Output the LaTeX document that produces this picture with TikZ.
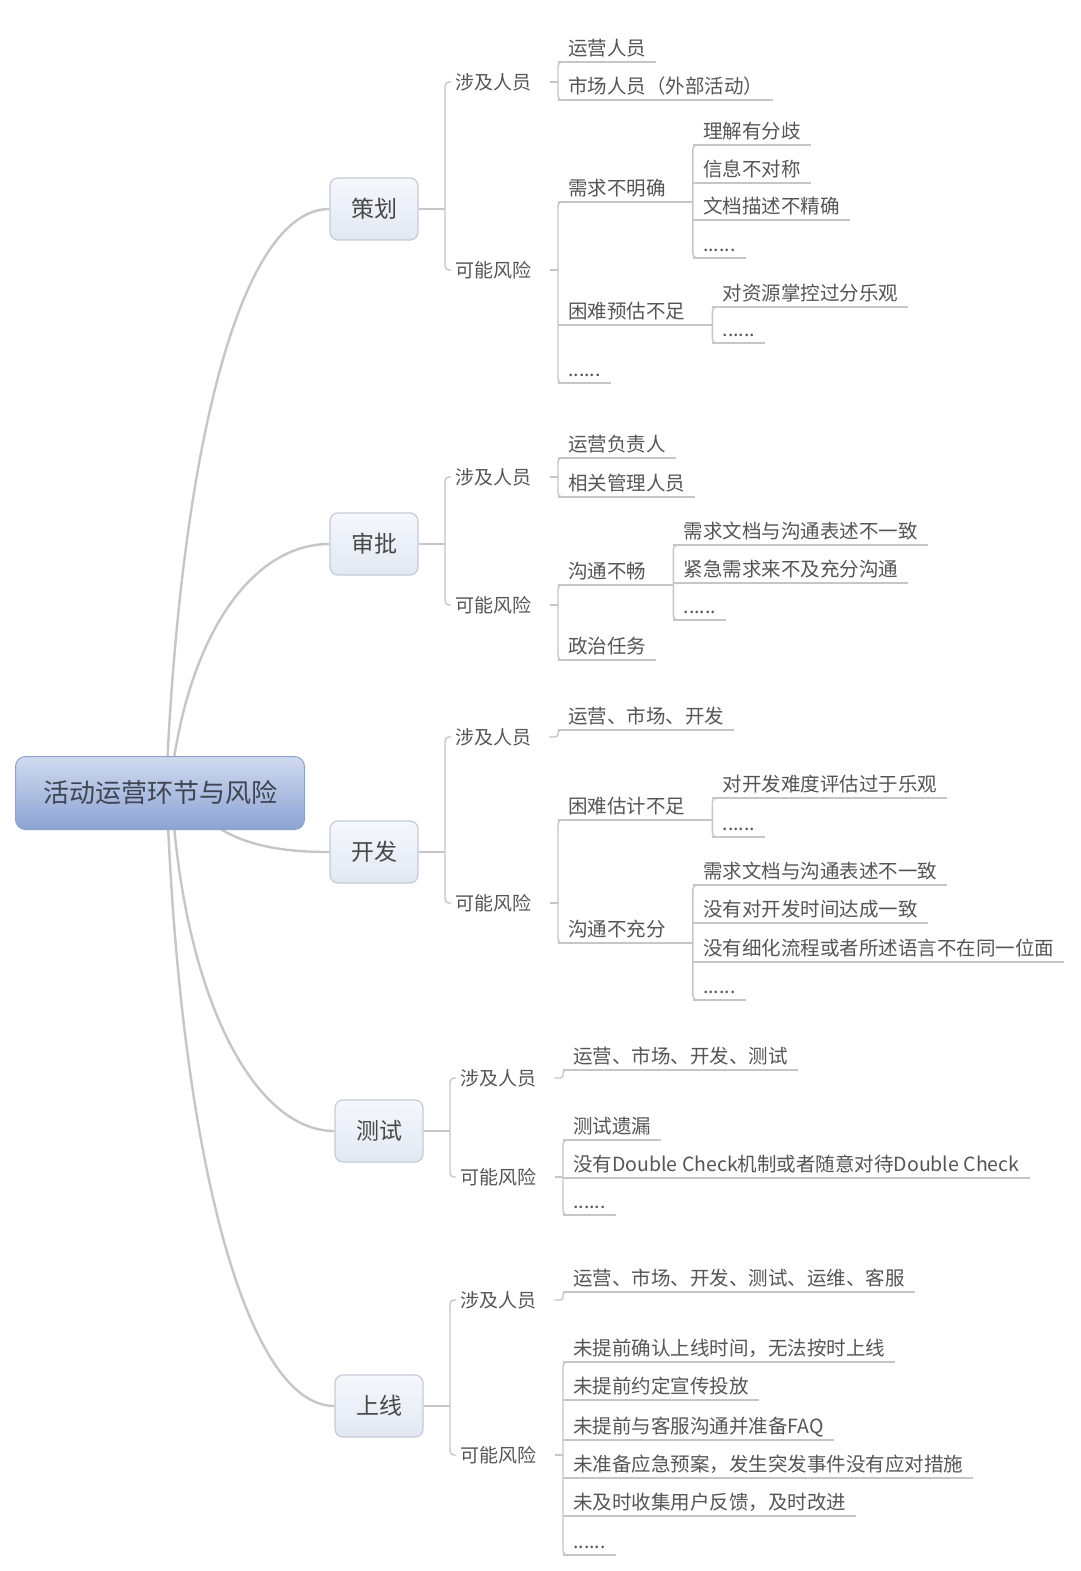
\documentclass[tikz,border=0pt]{standalone}
\usepackage{fontspec}
\setmainfont{Noto Sans CJK SC}
\definecolor{txt}{HTML}{555555}
\definecolor{ln}{HTML}{C6C6C6}
\definecolor{boxb}{HTML}{C4CBD8}
\definecolor{boxt}{HTML}{F5F7FB}
\definecolor{boxbot}{HTML}{E2E8F3}
\definecolor{roott}{HTML}{D0DAEE}
\definecolor{rootb}{HTML}{8CA3D4}
\definecolor{rootd}{HTML}{8FA2CA}
\definecolor{roottxt}{HTML}{3E4452}
\tikzset{
  conn/.style={draw=ln, line width=1.4pt, rounded corners=4pt},
  trunk/.style={draw=ln, line width=2.4pt},
  leaf/.style={anchor=south west, inner xsep=10pt, inner ysep=2pt, text height=15pt, text depth=4pt, font=\fontsize{19.5}{20}\selectfont, text=txt},
  lab/.style={anchor=west, inner xsep=4pt, font=\fontsize{19}{20}\selectfont, text=txt},
  topic/.style={rounded corners=8pt, draw=boxb, line width=1.2pt, top color=boxt, bottom color=boxbot, minimum width=88pt, minimum height=62pt, font=\fontsize{23}{24}\selectfont, text=txt!85!black},
  rootbox/.style={rounded corners=10pt, draw=rootd, line width=1pt, top color=roott, bottom color=rootb, minimum width=289pt, minimum height=73pt, font=\fontsize{26}{28}\selectfont, text=roottxt}
}
\newcommand\ul[1]{\draw[conn] (#1.south west) -- (#1.south east);}
\newcommand\ulx[2]{\draw[conn] (#1.south west) -- ([xshift=17pt]#1.south east) coordinate (#2);}
\newcommand\grp[2]{\draw[conn] ([xshift=10pt]#1.south west) -- (#1.south west) -- (#2.south west) -- ([xshift=10pt]#2.south west);}
\newcommand\tick[2]{\draw[conn] ([xshift=15pt]#1.east) -- (#1.east -| #2.south west);}
\newcommand\hook[2]{\draw[conn, rounded corners=3pt] ([xshift=14pt]#1.east) -| (#2.south west) -- ([xshift=10pt]#2.south west);}
\newcommand\fork[4]{\draw[conn] (#1.east) -- (#2); \draw[conn] (#3.west) -| (#2); \draw[conn] (#2) |- (#4.west);}
\begin{document}
\begin{tikzpicture}[x=1pt,y=-1pt]
\useasboundingbox[fill=white] (0,0) rectangle (1080,1571);

% ---- topic boxes ----
\node[topic] (t1) at (374,209) {策划};
\node[topic] (t2) at (374,544) {审批};
\node[topic] (t3) at (374,852) {开发};
\node[topic] (t4) at (379,1131) {测试};
\node[topic] (t5) at (379,1406) {上线};

% ---- trunk curves ----
\coordinate (o1) at (166,790);
\coordinate (o2) at (170,790);
\coordinate (o3) at (195,805);
\coordinate (o4) at (172,800);
\coordinate (o5) at (167,800);
\draw[trunk] (o1) .. controls (180,450) and (240,209) .. (t1.west);
\draw[trunk] (o2) .. controls (185,640) and (250,544) .. (t2.west);
\draw[trunk] (o3) .. controls (225,848) and (290,852) .. (t3.west);
\draw[trunk] (o4) .. controls (185,1000) and (255,1131) .. (t4.west);
\draw[trunk] (o5) .. controls (180,1150) and (245,1406) .. (t5.west);

\node[rootbox] (root) at (160,793) {活动运营环节与风险};

% ================= 策划 =================
\coordinate (cj1) at (445,209);
\node[lab] (l1a) at (451,82) {涉及人员};
\node[lab] (l1b) at (451,270) {可能风险};
\fork{t1}{cj1}{l1a}{l1b}
\node[leaf] (a1) at (558,62) {运营人员};
\node[leaf] (a2) at (558,100) {市场人员（外部活动）};
\ul{a1}\ul{a2}\grp{a1}{a2}\tick{l1a}{a1}
\node[leaf] (b1) at (558,202) {需求不明确};
\node[leaf] (b2) at (558,325) {困难预估不足};
\node[leaf] (b3) at (558,383) {......};
\ulx{b1}{b1j}\ulx{b2}{b2j}\ul{b3}\grp{b1}{b3}\tick{l1b}{b1}
\node[leaf] (c1) at (b1j |- 0,145) {理解有分歧};
\node[leaf] (c2) at (b1j |- 0,183) {信息不对称};
\node[leaf] (c3) at (b1j |- 0,220) {文档描述不精确};
\node[leaf] (c4) at (b1j |- 0,258) {......};
\ul{c1}\ul{c2}\ul{c3}\ul{c4}\grp{c1}{c4}
\node[leaf] (d1) at (b2j |- 0,307) {对资源掌控过分乐观};
\node[leaf] (d2) at (b2j |- 0,343) {......};
\ul{d1}\ul{d2}\grp{d1}{d2}

% ================= 审批 =================
\coordinate (cj2) at (445,544);
\node[lab] (l2a) at (451,477) {涉及人员};
\node[lab] (l2b) at (451,605) {可能风险};
\fork{t2}{cj2}{l2a}{l2b}
\node[leaf] (e1) at (558,458) {运营负责人};
\node[leaf] (e2) at (558,497) {相关管理人员};
\ul{e1}\ul{e2}\grp{e1}{e2}\tick{l2a}{e1}
\node[leaf] (f1) at (558,585) {沟通不畅};
\node[leaf] (f2) at (558,660) {政治任务};
\ulx{f1}{f1j}\ul{f2}\grp{f1}{f2}\tick{l2b}{f1}
\node[leaf] (g1) at (f1j |- 0,545) {需求文档与沟通表述不一致};
\node[leaf] (g2) at (f1j |- 0,583) {紧急需求来不及充分沟通};
\node[leaf] (g3) at (f1j |- 0,620) {......};
\ul{g1}\ul{g2}\ul{g3}\grp{g1}{g3}

% ================= 开发 =================
\coordinate (cj3) at (445,852);
\node[lab] (l3a) at (451,737) {涉及人员};
\node[lab] (l3b) at (451,903) {可能风险};
\fork{t3}{cj3}{l3a}{l3b}
\node[leaf] (h1) at (558,730) {运营、市场、开发};
\ul{h1}\hook{l3a}{h1}
\node[leaf] (i1) at (558,820) {困难估计不足};
\node[leaf] (i2) at (558,943) {沟通不充分};
\ulx{i1}{i1j}\ulx{i2}{i2j}\grp{i1}{i2}\tick{l3b}{i1}
\node[leaf] (j1) at (i1j |- 0,798) {对开发难度评估过于乐观};
\node[leaf] (j2) at (i1j |- 0,837) {......};
\ul{j1}\ul{j2}\grp{j1}{j2}
\node[leaf] (k1) at (i2j |- 0,885) {需求文档与沟通表述不一致};
\node[leaf] (k2) at (i2j |- 0,923) {没有对开发时间达成一致};
\node[leaf] (k3) at (i2j |- 0,962) {没有细化流程或者所述语言不在同一位面};
\node[leaf] (k4) at (i2j |- 0,1000) {......};
\ul{k1}\ul{k2}\ul{k3}\ul{k4}\grp{k1}{k4}

% ================= 测试 =================
\coordinate (cj4) at (450,1131);
\node[lab] (l4a) at (456,1078) {涉及人员};
\node[lab] (l4b) at (456,1177) {可能风险};
\fork{t4}{cj4}{l4a}{l4b}
\node[leaf] (m1) at (563,1070) {运营、市场、开发、测试};
\ul{m1}\hook{l4a}{m1}
\node[leaf] (n1) at (563,1140) {测试遗漏};
\node[leaf] (n2) at (563,1178) {没有Double Check机制或者随意对待Double Check};
\node[leaf] (n3) at (563,1215) {......};
\ul{n1}\ul{n2}\ul{n3}\grp{n1}{n3}\tick{l4b}{n1}

% ================= 上线 =================
\coordinate (cj5) at (450,1406);
\node[lab] (l5a) at (456,1300) {涉及人员};
\node[lab] (l5b) at (456,1455) {可能风险};
\fork{t5}{cj5}{l5a}{l5b}
\node[leaf] (q1) at (563,1292) {运营、市场、开发、测试、运维、客服};
\ul{q1}\hook{l5a}{q1}
\node[leaf] (p1) at (563,1362) {未提前确认上线时间，无法按时上线};
\node[leaf] (p2) at (563,1400) {未提前约定宣传投放};
\node[leaf] (p3) at (563,1440) {未提前与客服沟通并准备FAQ};
\node[leaf] (p4) at (563,1478) {未准备应急预案，发生突发事件没有应对措施};
\node[leaf] (p5) at (563,1516) {未及时收集用户反馈，及时改进};
\node[leaf] (p6) at (563,1555) {......};
\ul{p1}\ul{p2}\ul{p3}\ul{p4}\ul{p5}\ul{p6}\grp{p1}{p6}\tick{l5b}{p1}
\end{tikzpicture}
\end{document}
